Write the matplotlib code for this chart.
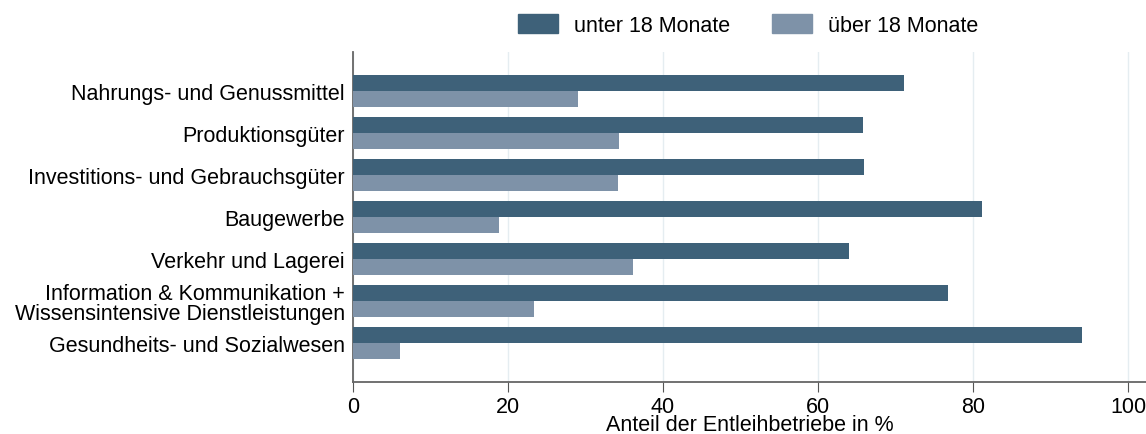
import numpy as np
import matplotlib
matplotlib.use("Agg")
import matplotlib.pyplot as plt
from matplotlib.patches import Patch

# Daten
kategorien = ['Nahrungs- und Genussmittel', 'Produktionsgüter',
              'Investitions- und Gebrauchsgüter', 'Baugewerbe',
              'Verkehr und Lagerei',
              'Information & Kommunikation +\nWissensintensive Dienstleistungen',
              'Gesundheits- und Sozialwesen']
unter_18 = [71.1, 65.8, 65.9, 81.2, 64.0, 76.8, 94.0]
ueber_18 = [29.0, 34.3, 34.2, 18.8, 36.1, 23.3, 6.1]
serien = ['unter 18 Monate', 'über 18 Monate']
xticks = [0, 20, 40, 60, 80, 100]

dunkel = '#3e6179'
hell = '#7e92a8'
plt.rcParams['font.family'] = ['Liberation Sans', 'DejaVu Sans']
fs = 15.5

fig = plt.figure(figsize=(11.46, 4.35), dpi=100)
ax = fig.add_axes([0.308, 0.120, 0.692, 0.759])

y = np.arange(len(kategorien))
h = 0.38
ax.barh(y - h / 2, unter_18, height=h, color=dunkel, zorder=3)
ax.barh(y + h / 2, ueber_18, height=h, color=hell, zorder=3)

ax.set_yticks(y)
ax.set_yticklabels(kategorien, fontsize=fs, linespacing=0.92)
ax.set_ylim(6.91, -0.93)
ax.set_xlim(0, 102.3)
ax.set_xticks(xticks)
ax.tick_params(axis='x', labelsize=fs, length=7, color='#555555', pad=3)
ax.tick_params(axis='y', length=0, pad=6)

# Gitter nur vertikal
ax.grid(axis='x', color='#e5edf1', linewidth=1, zorder=0)
for s in ['top', 'right']:
    ax.spines[s].set_visible(False)
for s in ['left', 'bottom']:
    ax.spines[s].set_color('#666666')
    ax.spines[s].set_linewidth(1.3)

ax.set_xlabel('Anteil der Entleihbetriebe in %', fontsize=fs, labelpad=-2)

handles = [Patch(color=dunkel), Patch(color=hell)]
fig.legend(handles, serien, loc='center', bbox_to_anchor=(0.653, 0.94),
           ncol=2, frameon=False, fontsize=fs, handlelength=1.86,
           handleheight=0.93, handletextpad=0.75, columnspacing=1.95)

fig.savefig('out.png', dpi=100)
